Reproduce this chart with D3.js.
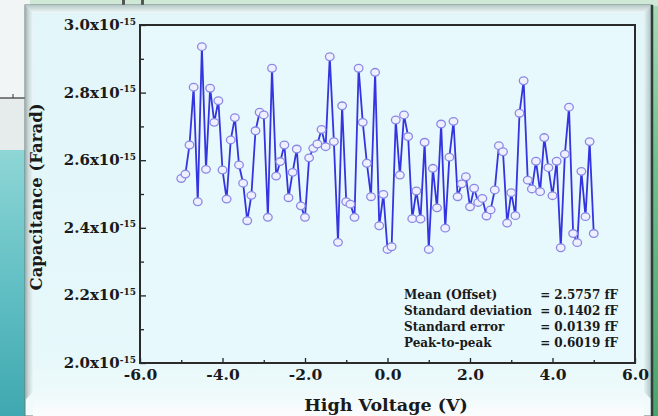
<!DOCTYPE html>
<html>
<head>
<meta charset="utf-8">
<script src="https://cdn.jsdelivr.net/npm/d3@7"></script>
<style>
  body { margin: 0; padding: 0; background: #ffffff; }
  svg { display: block; }
  .axis text { font-family: "DejaVu Serif", serif; font-weight: bold; fill: #1a1a1a; }
  .axis path, .axis line { stroke: #222; }
  .label { font-family: "DejaVu Serif", serif; font-weight: bold; fill: #1a1a1a; }
</style>
</head>
<body>
<div id="chart"></div>
<script>

// Capacitance vs. high voltage
var voltage = [
  -5.0, -4.9, -4.8, -4.7, -4.6, -4.5, -4.4, -4.3, -4.2, -4.1,
  -4.0, -3.9, -3.8, -3.7, -3.6, -3.5, -3.4, -3.3, -3.2, -3.1,
  -3.0, -2.9, -2.8, -2.7, -2.6, -2.5, -2.4, -2.3, -2.2, -2.1,
  -2.0, -1.9, -1.8, -1.7, -1.6, -1.5, -1.4, -1.3, -1.2, -1.1,
  -1.0, -0.9, -0.8, -0.7, -0.6, -0.5, -0.4, -0.3, -0.2, -0.1,
   0.0,  0.1,  0.2,  0.3,  0.4,  0.5,  0.6,  0.7,  0.8,  0.9,
   1.0,  1.1,  1.2,  1.3,  1.4,  1.5,  1.6,  1.7,  1.8,  1.9,
   2.0,  2.1,  2.2,  2.3,  2.4,  2.5,  2.6,  2.7,  2.8,  2.9,
   3.0,  3.1,  3.2,  3.3,  3.4,  3.5,  3.6,  3.7,  3.8,  3.9,
   4.0,  4.1,  4.2,  4.3,  4.4,  4.5,  4.6,  4.7,  4.8,  4.9,
   5.0
];

// capacitance in units of 1e-15 F
var capacitance = [
  2.546, 2.559, 2.645, 2.816, 2.477, 2.936, 2.573, 2.813, 2.712, 2.776,
  2.571, 2.485, 2.660, 2.726, 2.586, 2.532, 2.421, 2.496, 2.687, 2.742,
  2.734, 2.431, 2.872, 2.553, 2.596, 2.645, 2.489, 2.564, 2.633, 2.465,
  2.431, 2.607, 2.635, 2.648, 2.691, 2.640, 2.906, 2.655, 2.357, 2.761,
  2.477, 2.470, 2.431, 2.872, 2.712, 2.591, 2.492, 2.860, 2.406, 2.499,
  2.336, 2.344, 2.719, 2.556, 2.734, 2.670, 2.427, 2.509, 2.426, 2.653,
  2.336, 2.576, 2.459, 2.707, 2.399, 2.609, 2.715, 2.492, 2.530, 2.551,
  2.462, 2.517, 2.475, 2.487, 2.435, 2.453, 2.512, 2.643, 2.625, 2.414,
  2.504, 2.436, 2.739, 2.835, 2.541, 2.515, 2.597, 2.507, 2.667, 2.578,
  2.495, 2.597, 2.341, 2.618, 2.757, 2.383, 2.356, 2.567, 2.433, 2.655,
  2.383
];

var xMajorTicks = [-6, -4, -2, 0, 2, 4, 6];
var xMinorTicks = [-5, -3, -1, 1, 3, 5];
var yMajorTicks = [2.0, 2.2, 2.4, 2.6, 2.8, 3.0];
var yMinorTicks = [2.1, 2.3, 2.5, 2.7, 2.9];

var statNames = ["Mean (Offset)", "Standard deviation", "Standard error", "Peak-to-peak"];
var statValues = ["= 2.5757 fF", "= 0.1402 fF", "= 0.0139 fF", "= 0.6019 fF"];

var W = 658, H = 416;
var margin = { top: 25, right: 23, bottom: 53, left: 140 };
var width = W - margin.left - margin.right;
var height = H - margin.top - margin.bottom;

var svg = d3.select("#chart").append("svg")
    .attr("width", W)
    .attr("height", H);

var defs = svg.append("defs");

function linGrad(id, x1, y1, x2, y2, stops) {
    var g = defs.append("linearGradient").attr("id", id)
        .attr("x1", x1).attr("y1", y1).attr("x2", x2).attr("y2", y2);
    stops.forEach(function(s) {
        g.append("stop").attr("offset", s[0]).attr("stop-color", s[1]);
    });
}

linGrad("bgGreen", 0, 0, 0, 1, [[0, "#a9dcb6"], [0.4, "#6fc08c"], [1, "#4aa56c"]]);
linGrad("bgTeal", 0, 0, 0, 1, [[0, "#8fd6d6"], [0.5, "#62c0c4"], [1, "#3fa8b0"]]);
linGrad("bevelTop", 0, 0, 0, 1, [[0, "#b6c6c6"], [1, "#f0f9f9"]]);
linGrad("bevelLeft", 0, 0, 1, 0, [[0, "#9aabab"], [0.4, "#c8d6d6"], [1, "#eaf6f7"]]);
linGrad("bevelRight", 0, 0, 1, 0, [[0, "#e4f4f5"], [1, "#a9bcbc"]]);
linGrad("panelFill", 0, 0, 0, 1, [[0, "#e2f5f8"], [0.85, "#e6f8fa"], [1, "#f3fbfb"]]);
linGrad("bottomFill", 0, 0, 0, 1, [[0, "#eef9fa"], [1, "#fbfdfd"]]);

// Slide background
svg.append("rect").attr("width", W).attr("height", H).attr("fill", "url(#bgGreen)");
svg.append("rect").attr("x", 0).attr("y", 150).attr("width", 30).attr("height", H - 150)
    .attr("fill", "url(#bgTeal)");
svg.append("rect").attr("x", 0).attr("y", 0).attr("width", 30).attr("height", 150)
    .attr("fill", "#f2f5f5");
svg.append("rect").attr("x", 0).attr("y", 98).attr("width", 30).attr("height", 52)
    .attr("fill", "#e6ebeb");
svg.append("line").attr("x1", 0).attr("x2", 26).attr("y1", 98).attr("y2", 98)
    .attr("stroke", "#333").attr("stroke-width", 1.2);
svg.append("line").attr("x1", 13).attr("x2", 13).attr("y1", 94).attr("y2", 98)
    .attr("stroke", "#333").attr("stroke-width", 1);
svg.append("rect").attr("x", 30).attr("y", 0).attr("width", W - 30).attr("height", 6)
    .attr("fill", "#cfe9d6");
svg.append("rect").attr("x", 122).attr("y", 0).attr("width", 3).attr("height", 6).attr("fill", "#555");
svg.append("rect").attr("x", 141).attr("y", 0).attr("width", 3).attr("height", 6).attr("fill", "#555");

// Picture frame
var fx0 = 25, fy0 = 5, fx1 = 652, fb = 8;
svg.append("rect").attr("x", fx0).attr("y", fy0).attr("width", fx1 - fx0).attr("height", H - fy0)
    .attr("fill", "url(#panelFill)").attr("stroke", "#6a7a7a").attr("stroke-width", 1);
svg.append("polygon")
    .attr("points", [[fx0, fy0], [fx1, fy0], [fx1 - fb, fy0 + fb], [fx0 + fb, fy0 + fb]].join(" "))
    .attr("fill", "url(#bevelTop)");
svg.append("polygon")
    .attr("points", [[fx0, fy0], [fx0 + fb, fy0 + fb], [fx0 + fb, 392], [fx0, 400]].join(" "))
    .attr("fill", "url(#bevelLeft)");
svg.append("polygon")
    .attr("points", [[fx1, fy0], [fx1 - fb, fy0 + fb], [fx1 - fb, 392], [fx1, 400]].join(" "))
    .attr("fill", "url(#bevelRight)");
svg.append("rect").attr("x", fx0 + fb).attr("y", 392).attr("width", fx1 - fx0 - 2 * fb).attr("height", H - 392)
    .attr("fill", "url(#bottomFill)");
svg.append("line").attr("x1", fx1).attr("x2", fx1).attr("y1", fy0).attr("y2", H)
    .attr("stroke", "#2f3d3a").attr("stroke-width", 2.5);

var g = svg.append("g")
    .attr("transform", "translate(" + margin.left + "," + margin.top + ")");

// Scales and axes
var x = d3.scaleLinear().domain([-6, 6]).range([0, width]);
var y = d3.scaleLinear().domain([2.0, 3.0]).range([height, 0]);

g.append("rect")
    .attr("width", width).attr("height", height)
    .attr("fill", "#e7f9fc");

var xAxis = d3.axisBottom(x).tickValues(xMajorTicks)
    .tickSizeInner(-5).tickSizeOuter(0).tickPadding(7)
    .tickFormat(d3.format(".1f"));
var xMinor = d3.axisBottom(x).tickValues(xMinorTicks)
    .tickSizeInner(-3).tickSizeOuter(0).tickFormat("");
var yAxis = d3.axisLeft(y).tickValues(yMajorTicks)
    .tickSizeInner(-6).tickSizeOuter(0).tickPadding(4)
    .tickFormat(d3.format(".1f"));
var yMinor = d3.axisLeft(y).tickValues(yMinorTicks)
    .tickSizeInner(-4).tickSizeOuter(0).tickFormat("");

g.append("g").attr("class", "axis").attr("transform", "translate(0," + height + ")").call(xMinor);
var gx = g.append("g").attr("class", "axis x-axis")
    .attr("transform", "translate(0," + height + ")")
    .call(xAxis);
gx.selectAll("text").style("font-size", "15.5px").attr("dy", "0.62em")
    .text(function(d) { return d3.format(".1f")(d).replace("\u2212", "-"); });

g.append("g").attr("class", "axis").call(yMinor);
var gy = g.append("g").attr("class", "axis y-axis").call(yAxis);
gy.selectAll("text").each(function(d) {
    var t = d3.select(this);
    t.text(null).attr("dy", "0.3em").style("font-size", "15px");
    t.append("tspan").text(d3.format(".1f")(d) + "x10");
    t.append("tspan").attr("dy", "-0.6em").style("font-size", "9px").text("-15");
});
g.selectAll(".axis line").attr("stroke", "#222").attr("stroke-width", 1.3);
g.selectAll(".axis path").remove();

// Data line and markers
var line = d3.line()
    .x(function(d, i) { return x(voltage[i]); })
    .y(function(d) { return y(d); });

g.append("path")
    .datum(capacitance)
    .attr("fill", "none")
    .attr("stroke", "#3434e0")
    .attr("stroke-width", 1.8)
    .attr("stroke-linejoin", "round")
    .attr("d", line);

g.selectAll(".marker")
    .data(capacitance)
    .enter().append("ellipse")
    .attr("class", "marker")
    .attr("cx", function(d, i) { return x(voltage[i]); })
    .attr("cy", function(d) { return y(d); })
    .attr("rx", 4.3)
    .attr("ry", 3.8)
    .attr("fill", "#eef0ff")
    .attr("stroke", "#8a88e6")
    .attr("stroke-width", 1.3);

// Frame of the plot area
g.append("rect")
    .attr("width", width).attr("height", height)
    .attr("fill", "none")
    .attr("stroke", "#2a2a2a")
    .attr("stroke-width", 2);

// Statistics box
var stats = g.append("g").attr("class", "label").style("font-size", "12px");
statNames.forEach(function(name, i) {
    stats.append("text").attr("x", x(0.4)).attr("y", 274 + i * 16).text(name);
    stats.append("text").attr("x", x(3.7)).attr("y", 274 + i * 16).text(statValues[i]);
});

// Axis titles
svg.append("text").attr("class", "label")
    .attr("x", 386).attr("y", 411)
    .attr("text-anchor", "middle")
    .style("font-size", "17.5px")
    .text("High Voltage (V)");

svg.append("text").attr("class", "label")
    .attr("transform", "translate(42,197) rotate(-90)")
    .attr("text-anchor", "middle")
    .style("font-size", "16.5px")
    .text("Capacitance (Farad)");

</script>
</body>
</html>
